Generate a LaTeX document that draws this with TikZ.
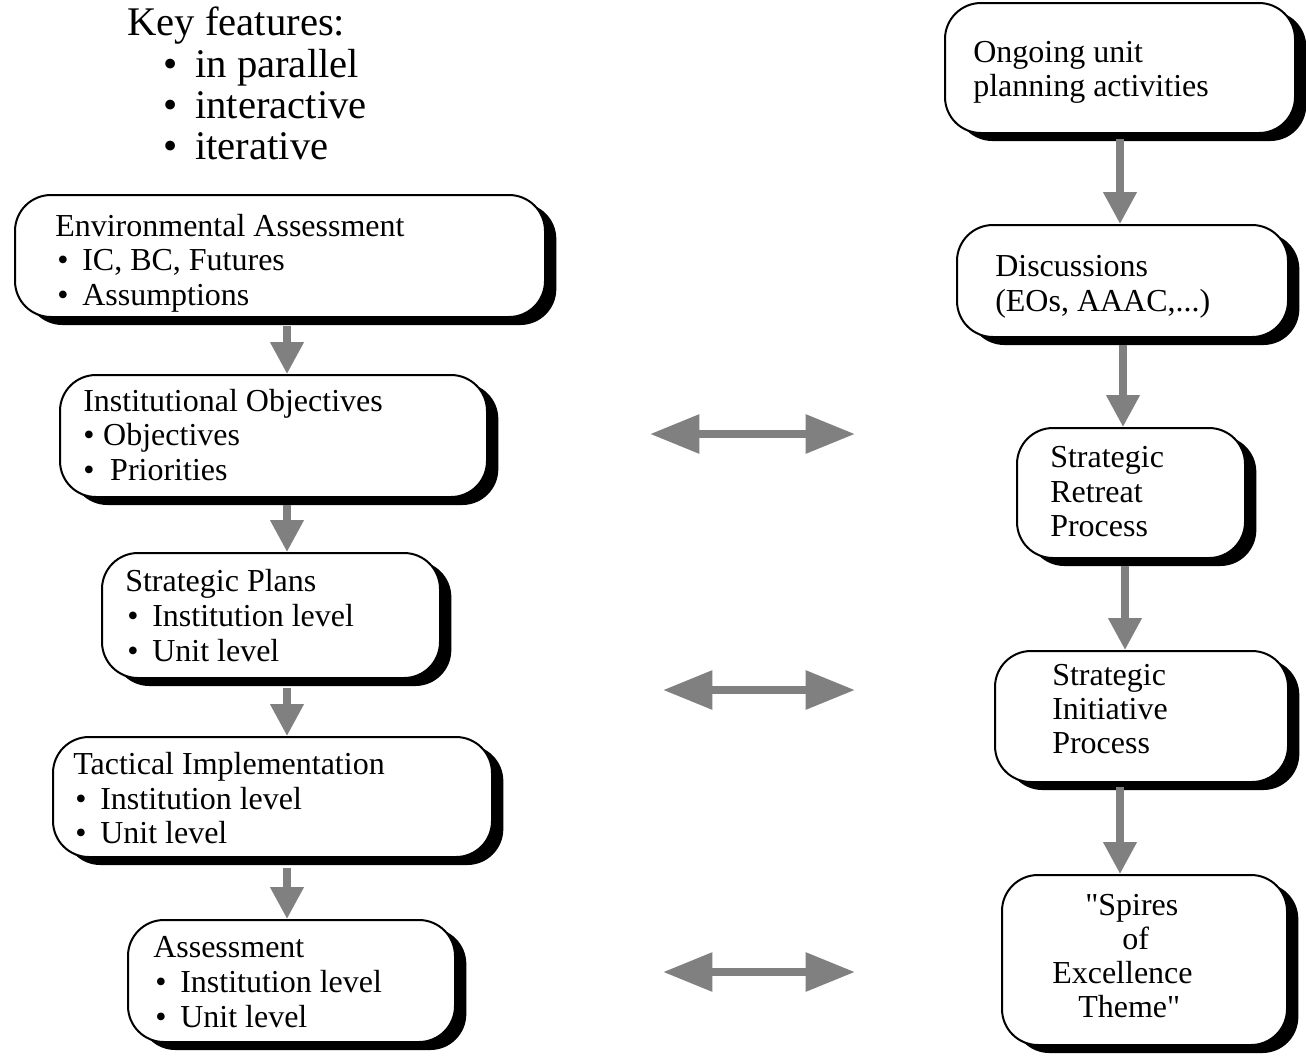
\documentclass[tikz,border=0pt]{standalone}
\usepackage{fontspec}
\setmainfont{Liberation Serif}[Ligatures=TeXOff]
\usetikzlibrary{arrows.meta,shadows,fit,calc}
\definecolor{arrgray}{RGB}{128,128,128}
\newcommand\mybul[1]{\makebox[#1][l]{•}}
\begin{document}
\begin{tikzpicture}[x=0.75pt,y=-0.75pt,
 box/.style={draw=black, line width=1.5pt, fill=white, rounded corners=27pt, inner sep=0pt,
   drop shadow={shadow xshift=8.5pt, shadow yshift=-6pt, opacity=1, fill=black}},
 txt/.style={anchor=base west, inner sep=0pt, font=\fontsize{24}{28}\selectfont},
 big/.style={anchor=base west, inner sep=0pt, font=\fontsize{30.5}{34}\selectfont},
 down/.style={draw=arrgray, line width=5.5pt, -{Triangle[length=24pt,width=24pt]}},
 both/.style={draw=arrgray, line width=6pt, {Triangle[length=37pt,width=28pt]}-{Triangle[length=37pt,width=28pt]}}
]
\useasboundingbox (0,0) rectangle (1306,1058);

% key features
\node[big] (k0) at (127,35) {Key features:};
\node[big] (k1) at (163,77) {\mybul{24pt}in parallel};
\node[big] (k2) at (163,118) {\mybul{24pt}interactive};
\node[big] (k3) at (163,159) {\mybul{24pt}iterative};

% left column boxes
\node[box, fit={(15,195) (545,317)}] (env) {};
\node[box, fit={(60,375) (487,497)}] (inst) {};
\node[box, fit={(102,553) (440,678)}] (plans) {};
\node[box, fit={(53,737) (492,857)}] (tact) {};
\node[box, fit={(128,920) (455,1042)}] (assess) {};

% right column boxes
\node[box, fit={(945,3) (1295,133)}] (ongo) {};
\node[box, fit={(957,225) (1288,337)}] (disc) {};
\node[box, fit={(1017,428) (1245,558)}] (retr) {};
\node[box, fit={(995,651) (1288,782)}] (init) {};
\node[box, fit={(1002,875) (1287,1045)}] (spir) {};

% left texts
\node[txt] (e1) at (55,236) {Environmental Assessment};
\node[txt] (e2) at (57,270) {\mybul{18.75pt}IC, BC, Futures};
\node[txt] (e3) at (57,305) {\mybul{18.75pt}Assumptions};

\node[txt] (i1) at (83,411) {Institutional Objectives};
\node[txt] (i2) at (83,445) {\mybul{15pt}Objectives};
\node[txt] (i3) at (83,480) {\mybul{20.25pt}Priorities};

\node[txt] (p1) at (125,591) {Strategic Plans};
\node[txt] (p2) at (127,626) {\mybul{18.75pt}Institution level};
\node[txt] (p3) at (127,661) {\mybul{18.75pt}Unit level};

\node[txt] (t1) at (73,774) {Tactical Implementation};
\node[txt] (t2) at (75,809) {\mybul{18.75pt}Institution level};
\node[txt] (t3) at (75,843) {\mybul{18.75pt}Unit level};

\node[txt] (a1) at (153,957) {Assessment};
\node[txt] (a2) at (155,992) {\mybul{18.75pt}Institution level};
\node[txt] (a3) at (155,1027) {\mybul{18.75pt}Unit level};

% right texts
\node[txt] (o1) at (973,62) {Ongoing unit};
\node[txt] (o2) at (973,96) {planning activities};

\node[txt] (d1) at (995,276) {Discussions};
\node[txt] (d2) at (995,311) {(EOs, AAAC,...)};

\node[txt] (r1) at (1050,467) {Strategic};
\node[txt] (r2) at (1050,502) {Retreat};
\node[txt] (r3) at (1050,536) {Process};

\node[txt] (n1) at (1052,685) {Strategic};
\node[txt] (n2) at (1052,719) {Initiative};
\node[txt] (n3) at (1052,753) {Process};

\node[txt] (s1) at (1085,915) {"Spires};
\node[txt] (s2) at (1122,949) {of};
\node[txt] (s3) at (1052,983) {Excellence};
\node[txt] (s4) at (1078,1017) {Theme"};

% arrow columns
\coordinate (lx) at (287,0);
\coordinate (rxa) at (1120,0);
\coordinate (rxb) at (1123,0);
\coordinate (rxc) at (1125,0);
\coordinate (rxd) at (1120,0);

\draw[down] ($(env.south -| lx)+(0,8)$) -- (inst.north -| lx);
\draw[down] ($(inst.south -| lx)+(0,7)$) -- (plans.north -| lx);
\draw[down] ($(plans.south -| lx)+(0,9)$) -- (tact.north -| lx);
\draw[down] ($(tact.south -| lx)+(0,10)$) -- (assess.north -| lx);

\draw[down] ($(ongo.south -| rxa)+(0,5)$) -- (disc.north -| rxa);
\draw[down] ($(disc.south -| rxb)+(0,7)$) -- (retr.north -| rxb);
\draw[down] ($(retr.south -| rxc)+(0,7)$) -- (init.north -| rxc);
\draw[down] ($(init.south -| rxd)+(0,4)$) -- (spir.north -| rxd);

% double arrows
\coordinate (da1) at (650,434);
\coordinate (db1) at (855,434);
\coordinate (da2) at (663,690);
\coordinate (db2) at (855,690);
\coordinate (da3) at (663,972);
\coordinate (db3) at (855,972);
\draw[both] (da1) -- (db1);
\draw[both] (da2) -- (db2);
\draw[both] (da3) -- (db3);
\end{tikzpicture}
\end{document}
